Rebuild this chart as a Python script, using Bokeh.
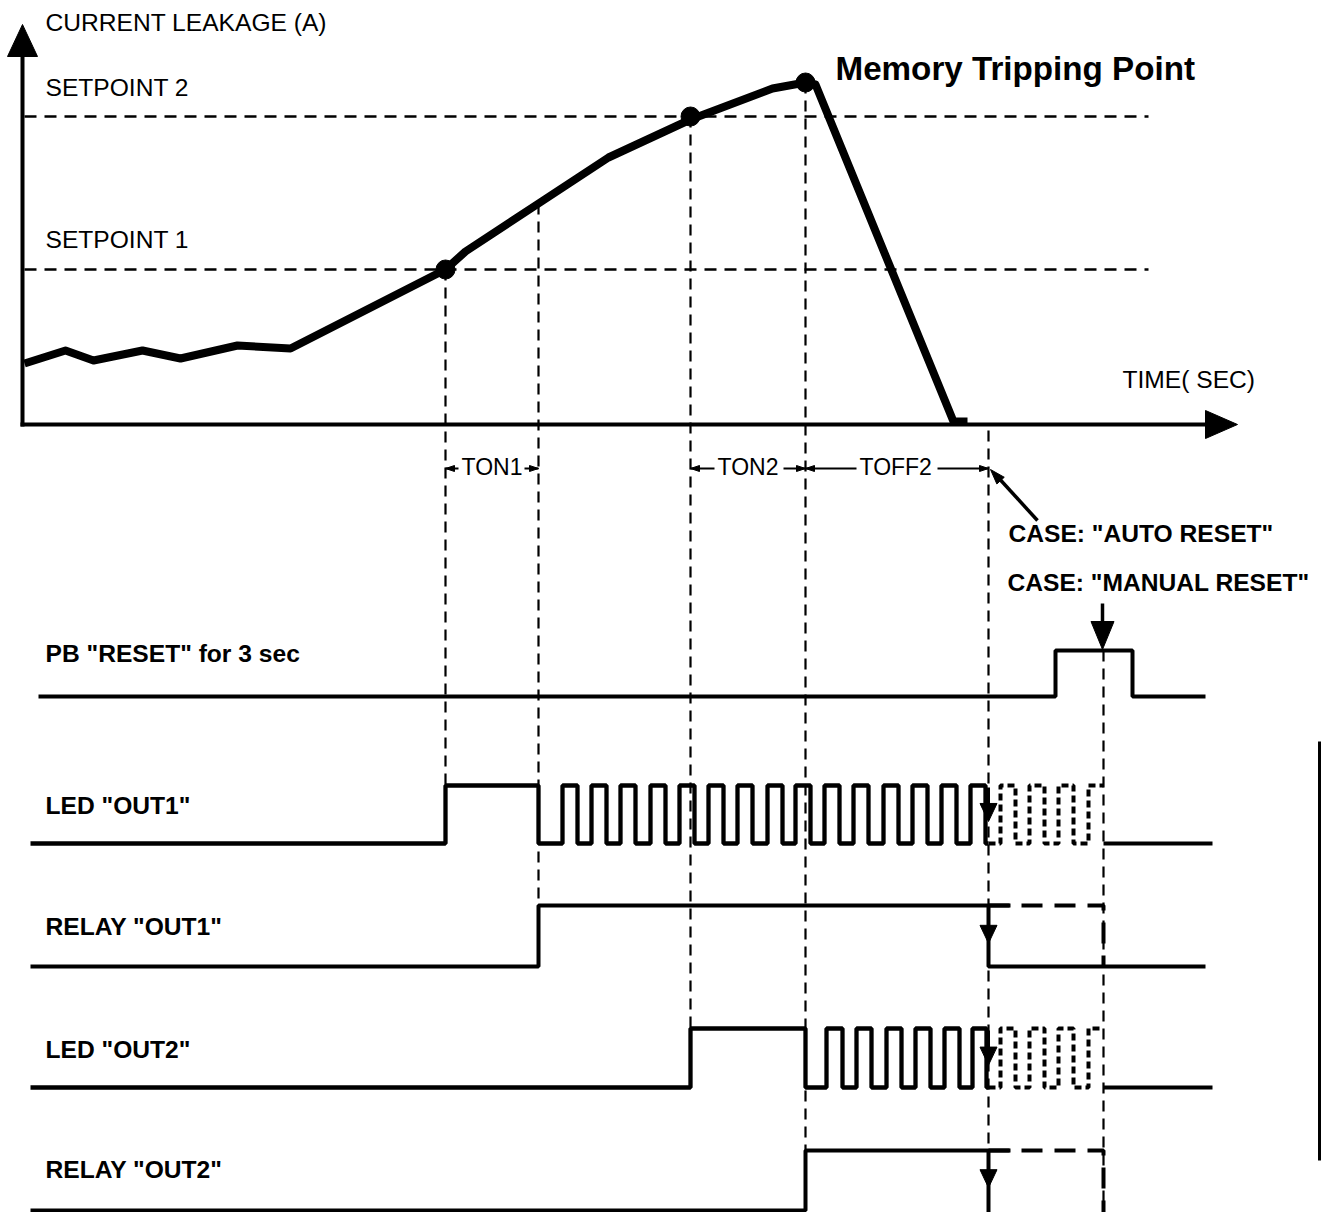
from bokeh.plotting import figure
from bokeh.models import Range1d
from bokeh.embed import file_html
from bokeh.resources import INLINE
from bokeh.core.properties import value

# ---------------- data (diagram units: time -> x, level -> y, y grows downward) ----------------
leak_t = [24, 65, 93, 142, 180, 237, 290, 445, 465, 538, 608, 690, 772, 805, 815, 953, 967]
leak_a = [363, 350, 360, 350, 358, 345, 348, 269, 251, 203, 157, 119, 88, 82, 84, 421, 421]

setpoint_level = [269, 116]
setpoint_labels = ["SETPOINT 1", "SETPOINT 2"]

dot_t = [445, 690, 805]
dot_a = [269, 116, 82]

# event times: SP1 reached, TON1 elapsed, SP2 reached, trip, TOFF2 elapsed, manual reset
t_sp1, t_ton1, t_sp2, t_trip, t_off, t_reset = 445, 538, 690, 805, 988, 1103

# guide lines (time, from level, to level)
guide_t = [t_sp1, t_ton1, t_sp2, t_trip, t_off, t_reset]
guide_y0 = [269, 203, 116, 82, 430, 650]
guide_y1 = [785, 905, 1027, 1150, 1212, 1212]

# lane levels (low, high)
lane_names = ['PB "RESET" for 3 sec', 'LED "OUT1"', 'RELAY "OUT1"', 'LED "OUT2"', 'RELAY "OUT2"']
lane_low = [696, 843, 966, 1087, 1210]
lane_high = [650, 785, 905, 1028, 1150]
lane_label_y = [663, 815, 936, 1059, 1179]

pb_edges = [38, 1055, 1132, 1205]
pb_states = [0, 1, 0]

led1_blink_rise = [562, 591, 620, 650, 679, 708, 737, 767, 795, 824, 853, 883, 912, 941, 970]
led1_blink_fall = [577, 606, 635, 665, 694, 723, 752, 782, 810, 839, 868, 898, 927, 956, 985]
led2_blink_rise = [826, 856, 886, 915, 944, 972]
led2_blink_fall = [842, 871, 901, 930, 959, 986]
manual_blink_rise = [1000, 1029, 1058, 1088]
manual_blink_fall = [1015, 1044, 1073, 1103]

timer_labels = ["TON1", "TON2", "TOFF2"]
timer_label_t = [461, 717, 859]

# ---------------- figure ----------------
BLACK = "#000000"
FONT = value("Liberation Sans")
p = figure(width=1322, height=1212, x_range=Range1d(0, 1322), y_range=Range1d(1212, 0),
           output_backend="svg", toolbar_location=None, min_border=0)
p.axis.visible = False
p.grid.visible = False
p.outline_line_color = None
p.background_fill_color = "white"
p.border_fill_color = "white"


def step_path(edges, states, lo, hi):
    xs, ys = [], []
    for i, s in enumerate(states):
        lev = hi if s else lo
        xs += [edges[i], edges[i + 1]]
        ys += [lev, lev]
    return xs, ys


def blink(start, rises, falls, end, lead_edges=(), lead_states=()):
    edges = list(lead_edges) + [start]
    states = list(lead_states) + [0]
    for r, f in zip(rises, falls):
        edges += [r, f]
        states += [1, 0]
    edges.append(end)
    return edges, states


def tri(tx, ty, dx, dy, length, half):
    bx, by = tx - dx * length, ty - dy * length
    px, py = -dy, dx
    return [tx, bx + px * half, bx - px * half], [ty, by + py * half, by - py * half]


arrows_x, arrows_y = [], []

# axes
p.line([22, 22], [50, 426], line_width=4, line_color=BLACK)
p.line([20, 1210], [424, 424], line_width=4, line_color=BLACK)
ax, ay = tri(22, 24, 0, -1, 32, 15)
arrows_x.append(ax); arrows_y.append(ay)
ax, ay = tri(1237, 424, 1, 0, 32, 14)
arrows_x.append(ax); arrows_y.append(ay)

# setpoints
for lev in setpoint_level:
    p.line([24, 1148], [lev, lev], line_width=2.5, line_color=BLACK, line_dash="12 8")

# guides
for t, y0, y1 in zip(guide_t, guide_y0, guide_y1):
    p.line([t, t], [y0, y1], line_width=2.2, line_color=BLACK, line_dash="11 7")

# leakage curve
p.line(leak_t, leak_a, line_width=8, line_color=BLACK, line_join="round")
p.scatter(dot_t, dot_a, size=19, fill_color=BLACK, line_color=BLACK)

# ---- PB reset lane
xs, ys = step_path(pb_edges, pb_states, lane_low[0], lane_high[0])
p.line(xs, ys, line_width=4, line_color=BLACK)

# ---- LED OUT1
e, s = blink(t_ton1, led1_blink_rise, led1_blink_fall, t_off,
             lead_edges=[30, t_sp1], lead_states=[0, 1])
xs, ys = step_path(e, s, lane_low[1], lane_high[1])
p.line(xs, ys, line_width=4.3, line_color=BLACK)
e, s = blink(t_off, manual_blink_rise, manual_blink_fall, t_reset)
xs, ys = step_path(e[:-1], s[:-1], lane_low[1], lane_high[1])
p.line(xs, ys, line_width=4, line_color=BLACK, line_dash="7 4")
p.line([t_reset, 1212], [lane_low[1], lane_low[1]], line_width=4, line_color=BLACK)

# ---- RELAY OUT1
xs, ys = step_path([30, t_ton1, 1010], [0, 1], lane_low[2], lane_high[2])
p.line(xs, ys, line_width=4, line_color=BLACK)
p.line([t_off, t_off, 1205], [lane_high[2], lane_low[2], lane_low[2]], line_width=4, line_color=BLACK)
p.line([t_off, t_reset, t_reset], [lane_high[2], lane_high[2], lane_low[2]],
       line_width=4, line_color=BLACK, line_dash="21 12")

# ---- LED OUT2
e, s = blink(t_trip, led2_blink_rise, led2_blink_fall, t_off,
             lead_edges=[30, t_sp2], lead_states=[0, 1])
xs, ys = step_path(e, s, lane_low[3], lane_high[3])
p.line(xs, ys, line_width=4.3, line_color=BLACK)
e, s = blink(t_off, manual_blink_rise, manual_blink_fall, t_reset)
xs, ys = step_path(e[:-1], s[:-1], lane_low[3], lane_high[3])
p.line(xs, ys, line_width=4, line_color=BLACK, line_dash="7 4")
p.line([t_reset, 1212], [lane_low[3], lane_low[3]], line_width=4, line_color=BLACK)

# ---- RELAY OUT2
xs, ys = step_path([30, t_trip, 1010], [0, 1], lane_low[4], lane_high[4])
p.line(xs, ys, line_width=4, line_color=BLACK)
p.line([t_off, t_off], [lane_high[4], 1212], line_width=4, line_color=BLACK)
p.line([t_off, t_reset, t_reset], [lane_high[4], lane_high[4], 1212],
       line_width=4, line_color=BLACK, line_dash="21 12")

# TOFF2 down-arrows on each output lane
for hi, lo in zip(lane_high[1:], lane_low[1:]):
    tip = hi + (lo - hi) * 0.62
    p.line([t_off, t_off], [hi + 2, tip - 6], line_width=3, line_color=BLACK)
    ax, ay = tri(t_off, tip, 0, 1, 18, 8.5)
    arrows_x.append(ax); arrows_y.append(ay)

# manual reset arrow
p.line([t_reset - 1, t_reset - 1], [603, 630], line_width=3.5, line_color=BLACK)
ax, ay = tri(t_reset - 1, lane_high[0] - 1, 0, 1, 28, 11.5)
arrows_x.append(ax); arrows_y.append(ay)

# timer dimension arrows
timer_y = 468
dims = [(t_sp1, 458, -1), (t_ton1, 524, 1), (t_sp2, 714, -1), (t_trip, 783, 1),
        (t_trip, 856, -1), (t_off, 937, 1)]
for bound, other, d in dims:
    p.line([other, bound], [timer_y, timer_y], line_width=2, line_color=BLACK)
    ax, ay = tri(bound, timer_y, d, 0, 9, 3)
    arrows_x.append(ax); arrows_y.append(ay)

# auto reset pointer
p.line([1037, 995], [520, 474], line_width=3.5, line_color=BLACK)
ax, ay = tri(990, 469, -0.67, -0.74, 15, 5)
arrows_x.append(ax); arrows_y.append(ay)

p.patches(arrows_x, arrows_y, fill_color=BLACK, line_color=BLACK, line_width=1)

# right edge rule
p.line([1319, 1319], [741, 1160], line_width=3, line_color=BLACK)

# ---------------- texts ----------------
SHIFT = 10  # baseline correction for the renderer


def txt(x, y, s, size="24.6px", bold=False, shift=SHIFT):
    p.text([x], [y - shift], text=[s], text_font=FONT, text_font_size=value(size),
           text_font_style="bold" if bold else "normal", text_color=BLACK,
           text_baseline="alphabetic", text_align="left")


txt(45, 32, "CURRENT LEAKAGE (A)")
txt(45, 97, setpoint_labels[1])
txt(45, 249, setpoint_labels[0])
txt(1122, 389, "TIME( SEC)")
txt(835, 80, "Memory Tripping Point", size="33.2px", bold=True, shift=12)
for lbl, t in zip(timer_labels, timer_label_t):
    txt(t, 476, lbl, size="23px")
txt(1008, 543, 'CASE: "AUTO RESET"', bold=True)
txt(1007, 592, 'CASE: "MANUAL RESET"', bold=True)
for name, y in zip(lane_names, lane_label_y):
    txt(45, y, name, bold=True)

open("out.html", "w").write(file_html(p, INLINE))
